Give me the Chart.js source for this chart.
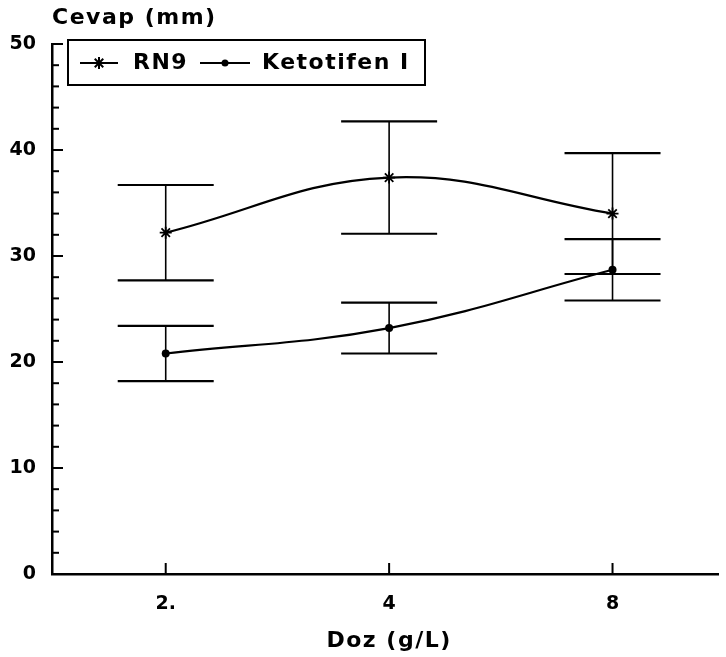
<!DOCTYPE html>
<html>
<head>
<meta charset="utf-8">
<script src="https://cdn.jsdelivr.net/npm/chart.js@4/dist/chart.umd.min.js"></script>
<style>
  body { margin: 0; background: #fff; }
  #wrap { width: 726px; height: 657px; position: relative; }
</style>
</head>
<body>
<div id="wrap"><canvas id="chart"></canvas></div>
<script>
// Data
const doses = ['2.', '4', '8'];
const rn9 = [32.2, 37.4, 34.0];
const rn9Err = [4.5, 5.3, 5.7];
const keto = [20.8, 23.2, 28.7];
const ketoErr = [2.6, 2.4, 2.9];
const seriesNames = ['RN9', 'Ketotifen I'];

const TEXT_FONT = 'bold 22px "DejaVu Sans"';

function toPoints(values) {
    return values.map((v, i) => ({ x: i, y: v }));
}

// Error bars, ticks pointing inward, titles and the boxed legend
const decorations = {
    id: 'decorations',
    afterDatasetsDraw(chart) {
        const ctx = chart.ctx;
        const xs = chart.scales.x;
        const ys = chart.scales.y;
        ctx.save();
        ctx.strokeStyle = '#000';

        // error bars
        [[rn9, rn9Err], [keto, ketoErr]].forEach(([vals, errs]) => {
            vals.forEach((v, i) => {
                const px = xs.getPixelForValue(i);
                const top = ys.getPixelForValue(v + errs[i]);
                const bot = ys.getPixelForValue(v - errs[i]);
                ctx.lineWidth = 1.6;
                ctx.beginPath();
                ctx.moveTo(px, top);
                ctx.lineTo(px, bot);
                ctx.stroke();
                ctx.lineWidth = 2.2;
                ctx.beginPath();
                ctx.moveTo(px - 48, top);
                ctx.lineTo(px + 48, top);
                ctx.moveTo(px - 48, bot);
                ctx.lineTo(px + 48, bot);
                ctx.stroke();
            });
        });

        // y ticks (minor every 2, major every 10), drawn inside the plot
        ctx.lineWidth = 2;
        const left = chart.chartArea.left;
        for (let v = 0; v <= 50; v += 2) {
            const py = ys.getPixelForValue(v);
            ctx.beginPath();
            ctx.moveTo(left, py);
            ctx.lineTo(left + (v % 10 === 0 ? 11 : 7), py);
            ctx.stroke();
        }
        // x ticks
        const bottom = chart.chartArea.bottom;
        doses.forEach((d, i) => {
            const px = xs.getPixelForValue(i);
            ctx.beginPath();
            ctx.moveTo(px, bottom);
            ctx.lineTo(px, bottom - 11);
            ctx.stroke();
        });

        // titles
        ctx.fillStyle = '#000';
        ctx.font = TEXT_FONT;
        ctx.letterSpacing = '1.5px';
        ctx.textBaseline = 'middle';
        ctx.textAlign = 'left';
        ctx.fillText('Cevap (mm)', 52, 18);
        ctx.textAlign = 'center';
        const midX = (xs.getPixelForValue(0) + xs.getPixelForValue(2)) / 2;
        ctx.fillText('Doz (g/L)', midX, 641);

        // legend box
        ctx.lineWidth = 2;
        ctx.strokeRect(68, 40, 357, 45);
        const ly = 63;
        ctx.beginPath();
        ctx.moveTo(80, ly); ctx.lineTo(118, ly);
        ctx.moveTo(200, ly); ctx.lineTo(250, ly);
        ctx.stroke();
        Chart.helpers.drawPoint(ctx, { pointStyle: 'star', radius: 6, rotation: 0, borderWidth: 1.8 }, 99, ly);
        ctx.beginPath();
        ctx.arc(225, ly, 3.5, 0, Math.PI * 2);
        ctx.fill();
        ctx.textAlign = 'left';
        ctx.fillText(seriesNames[0], 133, ly);
        ctx.fillText(seriesNames[1], 262, ly);
        ctx.restore();
    }
};

new Chart(document.getElementById('chart'), {
    type: 'line',
    data: {
        datasets: [{
            label: seriesNames[0],
            data: toPoints(rn9),
            borderColor: '#000',
            backgroundColor: '#000',
            borderWidth: 2.2,
            tension: 0.4,
            pointStyle: 'star',
            pointRadius: 6,
            pointBorderWidth: 1.8
        }, {
            label: seriesNames[1],
            data: toPoints(keto),
            borderColor: '#000',
            backgroundColor: '#000',
            borderWidth: 2.2,
            tension: 0.4,
            pointStyle: 'circle',
            pointRadius: 4,
            pointBorderWidth: 0
        }]
    },
    options: {
        responsive: true,
        maintainAspectRatio: false,
        animation: false,
        layout: { padding: { top: 44, left: 0, right: 0, bottom: 0 } },
        plugins: {
            legend: { display: false },
            tooltip: { enabled: false }
        },
        scales: {
            x: {
                type: 'linear',
                min: -0.509,
                max: 2.473,
                afterBuildTicks(scale) {
                    scale.ticks = doses.map((d, i) => ({ value: i }));
                },
                afterFit(scale) { scale.height = 83; },
                grid: { display: false, drawTicks: false },
                border: { display: true, color: '#000', width: 2.5 },
                ticks: {
                    padding: 19,
                    color: '#000',
                    font: { family: 'DejaVu Sans', size: 19, weight: 'bold' },
                    callback: (v) => doses[v]
                }
            },
            y: {
                min: 0,
                max: 50,
                afterBuildTicks(scale) {
                    scale.ticks = [0, 10, 20, 30, 40, 50].map(v => ({ value: v }));
                },
                afterFit(scale) { scale.width = 52; },
                grid: { display: false, drawTicks: false },
                border: { display: true, color: '#000', width: 2.5 },
                ticks: {
                    padding: 16,
                    color: '#000',
                    font: { family: 'DejaVu Sans', size: 19, weight: 'bold' }
                }
            }
        }
    },
    plugins: [decorations]
});
</script>
</body>
</html>
